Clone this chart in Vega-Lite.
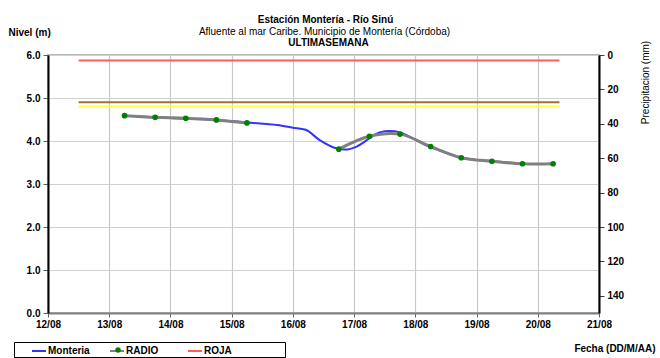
{
  "$schema": "https://vega.github.io/schema/vega-lite/v6.json",
  "width": 551,
  "height": 258,
  "autosize": {"type": "none"},
  "padding": {"left": 48, "top": 55, "right": 61, "bottom": 45},
  "background": "white",
  "config": {
    "font": "Liberation Sans",
    "view": {"stroke": "#a0a0a0", "strokeWidth": 1.5}
  },
  "datasets": {
    "nivel": [
      {"serie": "Monteria", "seg": "a", "t": "2020-08-13T06:00", "v": 4.59},
      {"serie": "Monteria", "seg": "a", "t": "2020-08-13T18:00", "v": 4.55},
      {"serie": "Monteria", "seg": "a", "t": "2020-08-14T06:00", "v": 4.52},
      {"serie": "Monteria", "seg": "a", "t": "2020-08-14T18:00", "v": 4.49},
      {"serie": "Monteria", "seg": "a", "t": "2020-08-15T06:00", "v": 4.43},
      {"serie": "Monteria", "seg": "a", "t": "2020-08-15T18:00", "v": 4.37},
      {"serie": "Monteria", "seg": "a", "t": "2020-08-16T00:00", "v": 4.31},
      {"serie": "Monteria", "seg": "a", "t": "2020-08-16T05:00", "v": 4.26},
      {"serie": "Monteria", "seg": "a", "t": "2020-08-16T10:30", "v": 4.02},
      {"serie": "Monteria", "seg": "a", "t": "2020-08-16T17:00", "v": 3.83},
      {"serie": "Monteria", "seg": "a", "t": "2020-08-16T20:30", "v": 3.8},
      {"serie": "Monteria", "seg": "a", "t": "2020-08-17T01:00", "v": 3.87},
      {"serie": "Monteria", "seg": "a", "t": "2020-08-17T06:00", "v": 4.06},
      {"serie": "Monteria", "seg": "a", "t": "2020-08-17T10:00", "v": 4.2},
      {"serie": "Monteria", "seg": "a", "t": "2020-08-17T14:00", "v": 4.23},
      {"serie": "Monteria", "seg": "a", "t": "2020-08-17T18:00", "v": 4.2},
      {"serie": "Monteria", "seg": "a", "t": "2020-08-17T23:00", "v": 4.06},
      {"serie": "Monteria", "seg": "a", "t": "2020-08-18T05:00", "v": 3.88},
      {"serie": "Monteria", "seg": "a", "t": "2020-08-18T12:00", "v": 3.73},
      {"serie": "Monteria", "seg": "a", "t": "2020-08-18T18:00", "v": 3.61},
      {"serie": "Monteria", "seg": "a", "t": "2020-08-19T06:00", "v": 3.53},
      {"serie": "Monteria", "seg": "a", "t": "2020-08-19T12:00", "v": 3.5},
      {"serie": "Monteria", "seg": "a", "t": "2020-08-19T17:00", "v": 3.47},
      {"serie": "RADIO", "seg": "a", "t": "2020-08-13T06:00", "v": 4.59},
      {"serie": "RADIO", "seg": "a", "t": "2020-08-13T18:00", "v": 4.55},
      {"serie": "RADIO", "seg": "a", "t": "2020-08-14T06:00", "v": 4.53},
      {"serie": "RADIO", "seg": "a", "t": "2020-08-14T18:00", "v": 4.49},
      {"serie": "RADIO", "seg": "a", "t": "2020-08-15T06:00", "v": 4.42},
      {"serie": "RADIO", "seg": "b", "t": "2020-08-16T18:00", "v": 3.81},
      {"serie": "RADIO", "seg": "b", "t": "2020-08-17T06:00", "v": 4.11},
      {"serie": "RADIO", "seg": "b", "t": "2020-08-17T18:00", "v": 4.16},
      {"serie": "RADIO", "seg": "b", "t": "2020-08-18T06:00", "v": 3.87},
      {"serie": "RADIO", "seg": "b", "t": "2020-08-18T18:00", "v": 3.61},
      {"serie": "RADIO", "seg": "b", "t": "2020-08-19T06:00", "v": 3.53},
      {"serie": "RADIO", "seg": "b", "t": "2020-08-19T18:00", "v": 3.47},
      {"serie": "RADIO", "seg": "b", "t": "2020-08-20T06:00", "v": 3.47}
    ],
    "umbral": [
      {"serie": "ROJA", "t": "2020-08-12T12:00", "v": 5.87},
      {"serie": "ROJA", "t": "2020-08-20T08:30", "v": 5.87},
      {"serie": "NARANJA", "t": "2020-08-12T12:00", "v": 4.9},
      {"serie": "NARANJA", "t": "2020-08-20T08:30", "v": 4.9},
      {"serie": "AMARILLA", "t": "2020-08-12T12:00", "v": 4.8},
      {"serie": "AMARILLA", "t": "2020-08-20T08:30", "v": 4.8}
    ]
  },
  "layer": [
    {
      "encoding": {
        "x": {
          "field": "t",
          "type": "temporal",
          "scale": {"domain": [{"year": 2020, "month": 8, "date": 12}, {"year": 2020, "month": 8, "date": 21}]},
          "axis": {
            "format": "%d/%m",
            "tickCount": {"interval": "day", "step": 1},
            "labelOverlap": false,
            "labelFlush": false,
            "grid": true,
            "gridColor": "#c8c8c8",
            "gridWidth": 1.2,
            "domainColor": "#808080",
            "domainWidth": 2,
            "tickColor": "#606060",
            "tickSize": 4,
            "labelFontSize": 10,
            "labelFontWeight": "bold",
            "labelColor": "black",
            "labelPadding": 2,
            "title": "Fecha (DD/M/AA)",
            "titleFontSize": 10,
            "titleFontWeight": "bold",
            "titleColor": "black",
            "titleX": 607,
            "titleY": 38,
            "titleAlign": "right",
            "titleBaseline": "alphabetic"
          }
        },
        "y": {
          "field": "v",
          "type": "quantitative",
          "scale": {"domain": [0, 6], "nice": false},
          "axis": {
            "values": [0, 1, 2, 3, 4, 5, 6],
            "format": ".1f",
            "grid": true,
            "gridColor": "#d0d0d0",
            "gridWidth": 1.2,
            "domainColor": "black",
            "domainWidth": 2,
            "tickColor": "#606060",
            "tickSize": 5,
            "labelFontSize": 10,
            "labelFontWeight": "bold",
            "labelColor": "black",
            "labelPadding": 3,
            "title": "Nivel (m)",
            "titleAngle": 0,
            "titleX": -40,
            "titleY": -20,
            "titleAlign": "left",
            "titleBaseline": "alphabetic",
            "titleFontSize": 10,
            "titleFontWeight": "bold",
            "titleColor": "black"
          }
        }
      },
      "layer": [
        {
          "data": {"name": "umbral"},
          "mark": {"type": "line", "strokeWidth": 2},
          "encoding": {
            "detail": {"field": "serie"},
            "color": {
              "field": "serie",
              "type": "nominal",
              "scale": {
                "domain": ["Monteria", "RADIO", "ROJA", " ", "NARANJA", "AMARILLA"],
                "range": ["#3333ff", "#808080", "#ff5c5c", "rgba(0,0,0,0)", "#a0703c", "#ffff40"]
              },
              "legend": {
                "values": ["Monteria", "RADIO", "ROJA", " "],
                "orient": "none",
                "legendX": -34,
                "legendY": 287,
                "direction": "horizontal",
                "columns": 4,
                "gridAlign": "all",
                "title": null,
                "strokeColor": "black",
                "fillColor": "white",
                "padding": 1,
                "symbolType": "stroke",
                "symbolSize": 196,
                "symbolOffset": 16,
                "symbolStrokeWidth": 2,
                "labelFontSize": 10,
                "labelFontWeight": "bold",
                "labelColor": "black",
                "labelOffset": 1,
                "columnPadding": 3
              }
            }
          }
        },
        {
          "data": {"name": "nivel"},
          "transform": [{"filter": "datum.serie === 'Monteria'"}],
          "mark": {"type": "line", "strokeWidth": 2, "interpolate": "monotone"},
          "encoding": {
            "color": {"field": "serie", "type": "nominal"}
          }
        },
        {
          "data": {"name": "nivel"},
          "transform": [{"filter": "datum.serie === 'RADIO'"}],
          "mark": {"type": "line", "strokeWidth": 3, "interpolate": "catmull-rom"},
          "encoding": {
            "detail": {"field": "seg"},
            "color": {"field": "serie", "type": "nominal"}
          }
        },
        {
          "data": {"name": "nivel"},
          "transform": [{"filter": "datum.serie === 'RADIO'"}],
          "mark": {"type": "circle", "size": 32, "opacity": 1},
          "encoding": {
            "fill": {
              "field": "serie",
              "type": "nominal",
              "scale": {"domain": ["RADIO"], "range": ["#008000"]},
              "legend": {
                "orient": "none",
                "legendX": 67,
                "legendY": 292,
                "title": null,
                "padding": 0,
                "symbolType": "circle",
                "symbolSize": 30,
                "symbolStrokeWidth": 0,
                "labelExpr": "''",
                "labelFontSize": 1
              }
            }
          }
        }
      ]
    },
    {
      "data": {"name": "nivel"},
      "mark": {"type": "point", "opacity": 0},
      "encoding": {
        "x": {
          "field": "t",
          "type": "temporal",
          "axis": {
            "orient": "top",
            "labels": false,
            "ticks": false,
            "domain": false,
            "grid": false,
            "title": "ULTIMASEMANA",
            "titleFontSize": 10,
            "titleFontWeight": "bold",
            "titleColor": "black",
            "titleX": 280,
            "titleY": -10,
            "titleAlign": "center",
            "titleBaseline": "alphabetic"
          }
        },
        "y": {
          "field": "precip",
          "type": "quantitative",
          "scale": {"domain": [0, 150], "reverse": true, "nice": false},
          "axis": {
            "orient": "right",
            "values": [0, 20, 40, 60, 80, 100, 120, 140],
            "grid": false,
            "domainColor": "black",
            "domainWidth": 2,
            "tickColor": "#404040",
            "tickSize": 5,
            "labelFontSize": 10,
            "labelFontWeight": "bold",
            "labelColor": "black",
            "labelPadding": 3,
            "title": "Precipitacion (mm)",
            "titleAngle": 270,
            "titleX": 46,
            "titleY": 27,
            "titleAlign": "center",
            "titleBaseline": "middle",
            "titleFontSize": 10,
            "titleFontWeight": "normal",
            "titleColor": "black"
          }
        }
      }
    },
    {
      "data": {"name": "umbral"},
      "mark": {"type": "point", "opacity": 0},
      "encoding": {
        "x": {
          "field": "t",
          "type": "temporal",
          "axis": {
            "orient": "top",
            "labels": false,
            "ticks": false,
            "domain": false,
            "grid": false,
            "title": "Estación Montería - Río Sinú",
            "titleFontSize": 10,
            "titleFontWeight": "bold",
            "titleColor": "black",
            "titleX": 277,
            "titleY": -33,
            "titleAlign": "center",
            "titleBaseline": "alphabetic"
          }
        }
      }
    },
    {
      "data": {"name": "umbral"},
      "mark": {"type": "point", "opacity": 0},
      "encoding": {
        "x": {
          "field": "t",
          "type": "temporal",
          "axis": {
            "orient": "top",
            "labels": false,
            "ticks": false,
            "domain": false,
            "grid": false,
            "title": "Afluente al mar Caribe. Municipio de Montería (Córdoba)",
            "titleFontSize": 10,
            "titleFontWeight": "normal",
            "titleColor": "black",
            "titleX": 276,
            "titleY": -21,
            "titleAlign": "center",
            "titleBaseline": "alphabetic"
          }
        }
      }
    }
  ],
  "resolve": {"scale": {"y": "independent"}, "axis": {"x": "independent"}}
}
